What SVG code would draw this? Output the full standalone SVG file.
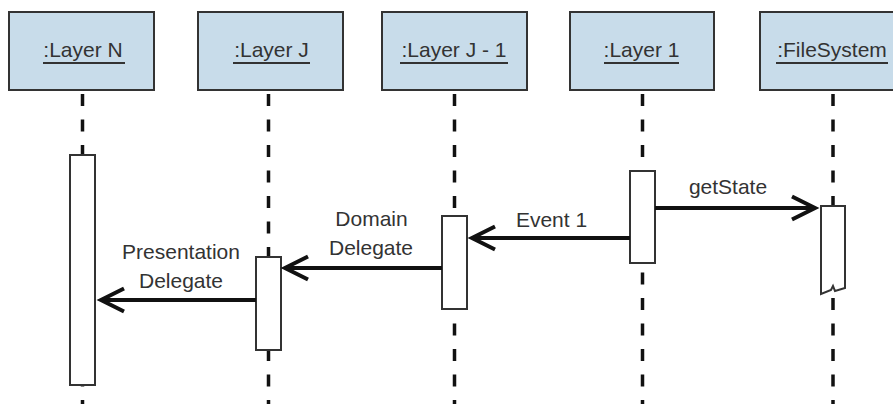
<svg xmlns="http://www.w3.org/2000/svg" width="893" height="404" viewBox="0 0 893 404">
  <style>
    .head { fill: #c8dcea; stroke: #333; stroke-width: 2; }
    .lbl { font-family: "Liberation Sans", Arial, sans-serif; font-size: 21px; fill: #333; text-anchor: middle; }
    .ul { stroke: #333; stroke-width: 2; }
    .life { stroke: #111; stroke-width: 3.5; stroke-dasharray: 12 13.5; fill: none; }
    .act { fill: #fff; stroke: #333; stroke-width: 2; }
    .msg { stroke: #111; stroke-width: 4; fill: none; marker-end: url(#open); }
  </style>
  <defs>
    <marker id="open" markerUnits="userSpaceOnUse" markerWidth="34" markerHeight="34" viewBox="-28 -17 34 34" refX="0" refY="0" orient="auto">
      <path d="M-23,-11.5 L0,0 L-23,11.5" fill="none" stroke="#111" stroke-width="4" stroke-linejoin="miter"/>
    </marker>
  </defs>

  <g id="lifelines">
    <line class="life" x1="82.5" y1="94" x2="82.5" y2="404"/>
    <line class="life" x1="268.5" y1="94" x2="268.5" y2="404"/>
    <line class="life" x1="454.5" y1="94" x2="454.5" y2="404"/>
    <line class="life" x1="642.5" y1="94" x2="642.5" y2="404"/>
    <line class="life" x1="833" y1="94" x2="833" y2="404"/>
  </g>

  <g id="layerN">
    <rect class="head" x="9" y="12" width="145" height="78"/>
    <text class="lbl" x="83" y="57">:Layer N</text>
    <line class="ul" x1="43" y1="63" x2="125" y2="63"/>
    <rect class="act" x="70" y="155" width="25" height="230"/>
  </g>

  <g id="layerJ">
    <rect class="head" x="198" y="12" width="145" height="78"/>
    <text class="lbl" x="271.5" y="57">:Layer J</text>
    <line class="ul" x1="233" y1="63" x2="310" y2="63"/>
    <rect class="act" x="256" y="257" width="25" height="93"/>
  </g>

  <g id="layerJ1">
    <rect class="head" x="382" y="12" width="145" height="78"/>
    <text class="lbl" x="454" y="57">:Layer J - 1</text>
    <line class="ul" x1="400" y1="63" x2="508" y2="63"/>
    <rect class="act" x="442" y="216" width="25" height="93"/>
  </g>

  <g id="layer1">
    <rect class="head" x="570" y="12" width="144" height="78"/>
    <text class="lbl" x="641.5" y="57">:Layer 1</text>
    <line class="ul" x1="604" y1="63" x2="679" y2="63"/>
    <rect class="act" x="630" y="171" width="25" height="92"/>
  </g>

  <g id="filesystem">
    <rect class="head" x="760" y="12" width="146" height="78"/>
    <text class="lbl" x="832" y="57">:FileSystem</text>
    <line class="ul" x1="776" y1="63" x2="888" y2="63"/>
    <path class="act" d="M821,206 H845 V288 L835,291 L833,286 L831,290 L821,294 Z"/>
  </g>

  <g id="connectors">
    <line class="msg" x1="655" y1="208" x2="815" y2="208"/>
    <line class="msg" x1="630" y1="238" x2="472" y2="238"/>
    <line class="msg" x1="442" y1="268" x2="285" y2="268"/>
    <line class="msg" x1="256" y1="300" x2="101" y2="300"/>
    <text class="lbl" x="728" y="194">getState</text>
    <text class="lbl" x="551.5" y="227">Event 1</text>
    <text class="lbl" x="371.5" y="226">Domain</text>
    <text class="lbl" x="371" y="255">Delegate</text>
    <text class="lbl" x="181" y="259">Presentation</text>
    <text class="lbl" x="181" y="288">Delegate</text>
  </g>
</svg>
